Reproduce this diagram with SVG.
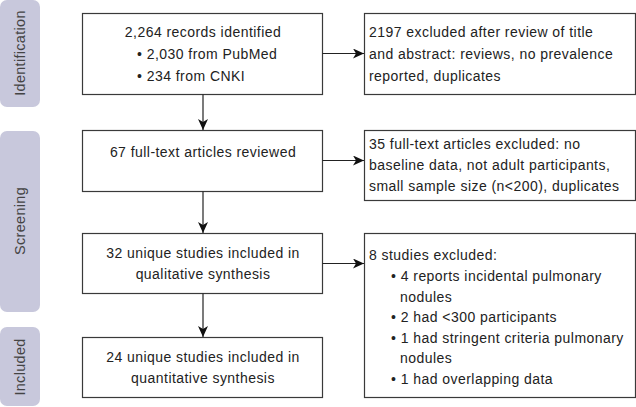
<svg xmlns="http://www.w3.org/2000/svg" width="636" height="407" viewBox="0 0 636 407">
<style>
.phase{fill:#c8c8dc}
.plabel{font-family:"Liberation Sans",Arial,sans-serif;font-size:14.5px;fill:#444;text-anchor:middle;letter-spacing:0.3px}
.box{fill:#fff;stroke:#3a3a3a;stroke-width:1.2}
.t{font-family:"Liberation Sans",Arial,sans-serif;font-size:14px;letter-spacing:0.45px;fill:#222}
.c{text-anchor:middle}
.conn{stroke:#222;stroke-width:1.2;fill:none}
</style>
<defs>
<marker id="ah" markerWidth="12" markerHeight="10" refX="11" refY="5" orient="auto" markerUnits="userSpaceOnUse">
<path d="M0,0 L11,5 L0,10 L3,5 Z" fill="#111"/>
</marker>
</defs>
<g id="phase-identification">
<rect class="phase" x="0" y="0" width="40" height="107" rx="7"/>
<text class="plabel" transform="translate(25,53) rotate(-90)">Identification</text>
</g>
<g id="phase-screening">
<rect class="phase" x="0" y="131" width="40" height="181" rx="7"/>
<text class="plabel" transform="translate(25,221) rotate(-90)">Screening</text>
</g>
<g id="phase-included">
<rect class="phase" x="0" y="327" width="40" height="79" rx="7"/>
<text class="plabel" transform="translate(25,367) rotate(-90)">Included</text>
</g>
<g id="records">
<rect class="box" x="82.5" y="13.5" width="240" height="81"/>
<text class="t c" x="203" y="37">2,264 records identified</text>
<text class="t" x="137" y="59">• 2,030 from PubMed</text>
<text class="t" x="137" y="81">• 234 from CNKI</text>
</g>
<g id="excluded1">
<rect class="box" x="364.5" y="13.5" width="271" height="81"/>
<text class="t" x="369" y="37">2197 excluded after review of title</text>
<text class="t" x="369" y="59">and abstract: reviews, no prevalence</text>
<text class="t" x="369" y="81">reported, duplicates</text>
</g>
<g id="fulltext">
<rect class="box" x="82.5" y="130.5" width="240" height="61"/>
<text class="t c" x="203" y="157">67 full-text articles reviewed</text>
</g>
<g id="excluded2">
<rect class="box" x="364.5" y="130.5" width="271" height="70"/>
<text class="t" x="369" y="149">35 full-text articles excluded: no</text>
<text class="t" x="369" y="170">baseline data, not adult participants,</text>
<text class="t" x="369" y="191">small sample size (n&lt;200), duplicates</text>
</g>
<g id="qualitative">
<rect class="box" x="82.5" y="233.5" width="240" height="60"/>
<text class="t c" x="203" y="258">32 unique studies included in</text>
<text class="t c" x="203" y="279">qualitative synthesis</text>
</g>
<g id="excluded3">
<rect class="box" x="364.5" y="233.5" width="271" height="164"/>
<text class="t" x="369" y="260">8 studies excluded:</text>
<text class="t" x="391" y="281">• 4 reports incidental pulmonary</text>
<text class="t" x="400" y="302">nodules</text>
<text class="t" x="391" y="322">• 2 had &lt;300 participants</text>
<text class="t" x="391" y="343">• 1 had stringent criteria pulmonary</text>
<text class="t" x="400" y="363">nodules</text>
<text class="t" x="391" y="384">• 1 had overlapping data</text>
</g>
<g id="quantitative">
<rect class="box" x="82.5" y="337.5" width="240" height="60"/>
<text class="t c" x="203" y="362">24 unique studies included in</text>
<text class="t c" x="203" y="383">quantitative synthesis</text>
</g>
<g id="connectors">
<line class="conn" x1="203" y1="94.5" x2="203" y2="130" marker-end="url(#ah)"/>
<line class="conn" x1="203" y1="191.5" x2="203" y2="233" marker-end="url(#ah)"/>
<line class="conn" x1="203" y1="293.5" x2="203" y2="337" marker-end="url(#ah)"/>
<line class="conn" x1="322.5" y1="53.5" x2="364" y2="53.5" marker-end="url(#ah)"/>
<line class="conn" x1="322.5" y1="160.5" x2="364" y2="160.5" marker-end="url(#ah)"/>
<line class="conn" x1="322.5" y1="263.5" x2="364" y2="263.5" marker-end="url(#ah)"/>
</g>
</svg>
